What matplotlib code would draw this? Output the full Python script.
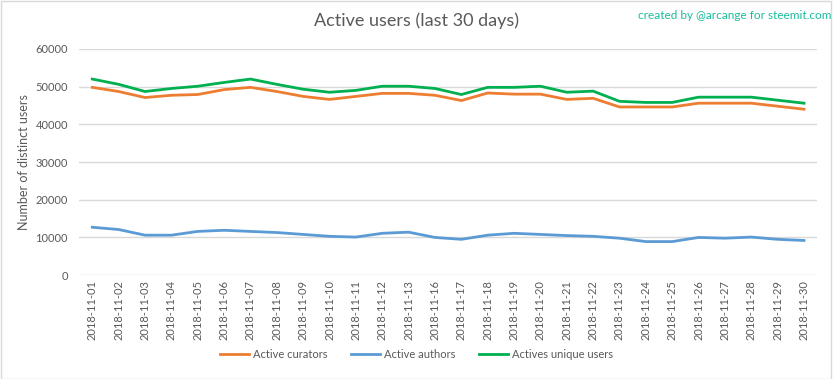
import matplotlib
matplotlib.use('Agg')
import matplotlib.pyplot as plt
import numpy as np

dates = ['2018-11-01', '2018-11-02', '2018-11-03', '2018-11-04', '2018-11-05',
         '2018-11-06', '2018-11-07', '2018-11-08', '2018-11-09', '2018-11-10',
         '2018-11-11', '2018-11-12', '2018-11-13', '2018-11-16', '2018-11-17',
         '2018-11-18', '2018-11-19', '2018-11-20', '2018-11-21', '2018-11-22',
         '2018-11-23', '2018-11-24', '2018-11-25', '2018-11-26', '2018-11-27',
         '2018-11-28', '2018-11-29', '2018-11-30']

curators = [49800, 48700, 47100, 47700, 47900, 49200, 49800, 48700, 47400, 46600,
            47400, 48200, 48200, 47700, 46300, 48300, 48000, 48000, 46600, 46900,
            44600, 44600, 44600, 45600, 45600, 45600, 44800, 44000]
authors = [12700, 12100, 10600, 10600, 11600, 11900, 11600, 11300, 10800, 10300,
           10100, 11100, 11400, 10000, 9500, 10600, 11100, 10800, 10500, 10300,
           9800, 8900, 8900, 10000, 9800, 10100, 9500, 9200]
unique_users = [52000, 50600, 48700, 49500, 50100, 51100, 52000, 50600, 49300, 48500,
                49000, 50100, 50100, 49500, 47900, 49800, 49800, 50100, 48500, 48800,
                46100, 45800, 45800, 47200, 47200, 47200, 46400, 45600]

plt.rcParams['font.family'] = ['Lato', 'DejaVu Sans']

fig = plt.figure(figsize=(8.33, 3.79), dpi=100)
ax = fig.add_axes([0.095, 0.274, 0.886, 0.597])

x = np.arange(len(dates))
ax.plot(x, curators, color='#ED7D31', lw=2, label='Active curators')
ax.plot(x, authors, color='#5B9BD5', lw=2, label='Active authors')
ax.plot(x, unique_users, color='#00B050', lw=2, label='Actives unique users')

ax.set_xlim(-0.5, len(dates) - 0.5)
ax.set_ylim(0, 60000)
ax.set_yticks(range(0, 60001, 10000))
ax.set_xticks(x)
ax.set_xticklabels(dates, rotation=90)
ax.tick_params(axis='both', length=0, colors='#595959', labelsize=8)
ax.tick_params(axis='y', pad=8)
ax.grid(axis='y', color='#D9D9D9', lw=1)
ax.set_axisbelow(True)
for s in ax.spines.values():
    s.set_visible(False)
ax.set_ylabel('Number of distinct users', color='#595959', fontsize=9, labelpad=4)

fig.text(0.5, 0.945, 'Active users (last 30 days)', ha='center', va='center',
         fontsize=13, color='#595959')
fig.text(0.882, 0.96, 'created by @arcange for steemit.com', ha='center', va='center',
         fontsize=8.5, color='#1ABC9C')

fig.legend(loc='center', bbox_to_anchor=(0.5, 0.065), ncol=3, frameon=False,
           fontsize=8, labelcolor='#595959', handlelength=2.6, handletextpad=0.3,
           columnspacing=2.2)

# light frame round the picture
fig.patches.append(plt.Rectangle((0.001, 0.001), 0.997, 0.996, transform=fig.transFigure,
                                 fill=False, edgecolor='#D9D9D9', lw=1))

fig.savefig('out.png', dpi=100)
